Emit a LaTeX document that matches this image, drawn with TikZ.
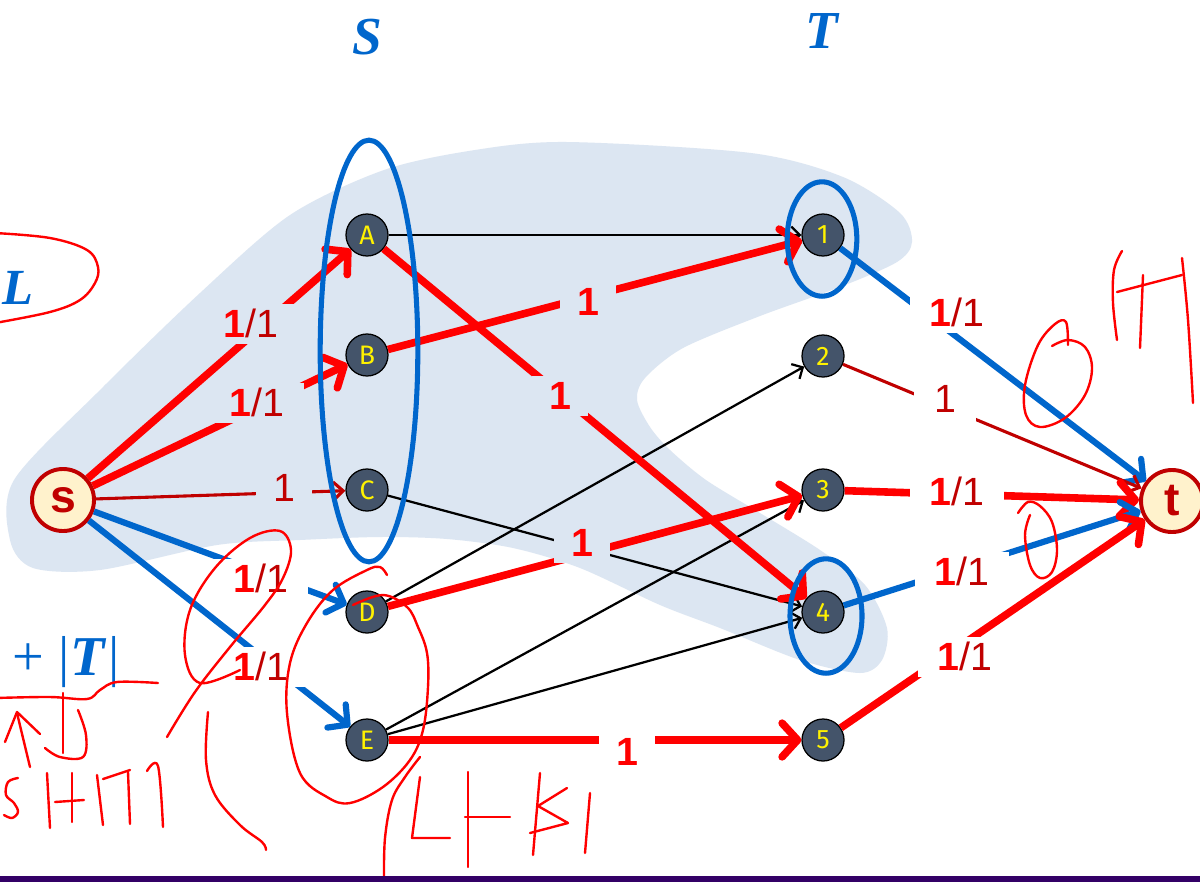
\documentclass[tikz,border=0pt]{standalone}
\usepackage{fontspec}
\setmainfont{Liberation Sans}
\newfontfamily\mathlike{Liberation Serif}
\newfontfamily\vtxfont{Fira Sans}
\usetikzlibrary{arrows.meta}
\definecolor{shadeblue}{HTML}{DCE6F2}
\definecolor{myblue}{HTML}{0066CC}
\definecolor{myred}{HTML}{FF0000}
\definecolor{dred}{HTML}{C00000}
\definecolor{slate}{HTML}{44546A}
\definecolor{cream}{HTML}{FFF2CC}
\definecolor{purp}{HTML}{330066}
\begin{document}
\begin{tikzpicture}[x=0.025cm,y=-0.025cm,
  vtx/.style={circle, draw=black, line width=0.9pt, fill=slate, text=yellow, minimum size=1.05cm, inner sep=0pt, font=\vtxfont\fontsize{19}{19}\selectfont},
  term/.style={circle, draw=dred, line width=2.8pt, fill=cream, text=dred, minimum size=1.55cm, inner sep=0pt, font=\fontsize{33}{33}\selectfont\bfseries},
  rthick/.style={draw=myred, line width=5.4pt, -{Straight Barb[length=11pt,width=24pt,round]}},
  bthick/.style={draw=myblue, line width=4.4pt, -{Straight Barb[length=10pt,width=21pt,round]}},
  thinarr/.style={draw=black, line width=1.6pt, -{Straight Barb[length=6pt,width=12pt]}},
  dthin/.style={draw=dred, line width=2.2pt, -{Straight Barb[length=7pt,width=13pt]}},
  ell/.style={draw=myblue, line width=3.6pt},
  lab/.style={fill=shadeblue, inner xsep=14pt, inner ysep=4pt, text height=20pt, text depth=1pt, font=\fontsize{28}{28}\selectfont},
  labw/.style={lab, fill=white},
  hand/.style={draw=myred, line width=1.7pt, line cap=round, line join=round},
  big/.style={text=myblue, font=\mathlike\bfseries\itshape\fontsize{38}{38}\selectfont}
]
\useasboundingbox (0,0) rectangle (1200,882);
\clip (0,0) rectangle (1200,882);
\fill[white] (0,0) rectangle (1200,882);

% shaded region
\fill[shadeblue] plot[smooth cycle, tension=0.5] coordinates {
  (567,142) (751,153) (843,177) (900,213) (912,242) (897,262) (840,287) (760,316)
  (683,348) (645,378) (637,400) (650,427) (670,450) (706,480) (760,513) (820,550)
  (865,585) (887,628) (882,660) (860,673) (800,660) (720,628) (660,605) (580,568)
  (513,548) (447,539) (380,537) (300,540) (217,545) (100,570) (33,568) (10,540)
  (14,480) (100,390) (200,293) (290,215) (384,170) (475,150)};

% headings
\node[big] (Shead) at (367,37) {S};
\node[big] (Thead) at (822,31) {T};
\node[big, font=\mathlike\bfseries\itshape\fontsize{36}{36}\selectfont] (Lhead) at (18,288) {L};
\node[anchor=west, text=myblue, inner sep=0pt, font=\mathlike\fontsize{40}{40}\selectfont] (plusT) at (12,662) {+\hspace{10pt}|\hspace{1pt}\textbf{\textit{T}}\hspace{1pt}|};

% nodes
\node[term] (s) at (63,500) {s};
\node[term] (t) at (1172,501) {t};
\node[vtx] (A) at (367,235) {A};
\node[vtx] (B) at (367,355) {B};
\node[vtx] (C) at (367,490) {C};
\node[vtx] (D) at (367,612) {D};
\node[vtx] (E) at (367,740) {E};
\node[vtx] (n1) at (823,235) {1};
\node[vtx] (n2) at (823,356) {2};
\node[vtx] (n3) at (823,490) {3};
\node[vtx] (n4) at (823,612) {4};
\node[vtx] (n5) at (823,740) {5};

% edges
\draw[thinarr] (A) -- (n1);
\draw[thinarr] (C) -- (n4);
\draw[thinarr] (D) -- (n2);
\draw[thinarr] (E) -- (n3);
\draw[thinarr] (E) -- (n4);
\draw[rthick] (s) -- (A);
\draw[rthick] (s) -- (B);
\draw[dthin] (s) -- (C);
\draw[bthick] (s) -- (D);
\draw[bthick] (s) -- (E);
\draw[rthick] (A) -- (n4);
\draw[rthick] (B) -- (n1);
\draw[rthick] (D) -- (n3);
\draw[rthick] (E) -- (n5);
\draw[bthick] (n1) -- (t);
\draw[dthin] (n2) -- (t);
\draw[rthick] (n3) -- (t);
\draw[bthick] (n4) -- (t);
\draw[rthick] (n5) -- (t);

% blue ellipses
\draw[ell] (369,351) ellipse [x radius=1.22cm, y radius=5.27cm];
\draw[ell] (822,239) ellipse [x radius=0.87cm, y radius=1.43cm];
\draw[ell] (826,616) ellipse [x radius=0.9cm, y radius=1.43cm];

% labels
\node[lab] (lsA) at (251,324) {{\bfseries\color{myred}1}{\color{dred}/1}};
\node[lab] (lsB) at (257,403) {{\bfseries\color{myred}1}{\color{dred}/1}};
\node[lab, inner xsep=12pt] (lsC) at (284,488) {\color{dred}1};
\node[labw] (lsD) at (261,579) {{\bfseries\color{myred}1}{\color{dred}/1}};
\node[labw] (lsE) at (261,667) {{\bfseries\color{myred}1}{\color{dred}/1}};
\node[lab, inner xsep=12pt] (lA4) at (560,396) {\bfseries\color{myred}1};
\node[lab, inner xsep=12pt] (lB1) at (588,302) {\bfseries\color{myred}1};
\node[lab, inner xsep=12pt] (lD3) at (582,543) {\bfseries\color{myred}1};
\node[labw, inner xsep=12pt] (lE5) at (627,752) {\bfseries\color{myred}1};
\node[labw] (l1t) at (957,313) {{\bfseries\color{myred}1}{\color{dred}/1}};
\node[labw, inner xsep=14pt, inner ysep=10pt] (l2t) at (945,399) {\color{dred}1};
\node[labw] (l3t) at (957,492) {{\bfseries\color{myred}1}{\color{dred}/1}};
\node[labw] (l4t) at (962,572) {{\bfseries\color{myred}1}{\color{dred}/1}};
\node[labw] (l5t) at (965,657) {{\bfseries\color{myred}1}{\color{dred}/1}};

% handwritten annotations
\draw[hand] plot[smooth, tension=0.6] coordinates {(-5,233) (50,238) (87,250) (98,267) (95,283) (80,300) (50,312) (-5,323)};
\draw[hand] plot[smooth, tension=0.6] coordinates {(-5,698) (50,697) (87,699) (100,690) (117,682) (158,683)};
\draw[hand] (30,767) -- (17,713);
\draw[hand] (5,742) -- (17,712) -- (40,734);
\draw[hand] (63,693) -- (63,753);
\draw[hand] plot[smooth, tension=0.6] coordinates {(45,748) (60,757) (83,757) (86,735) (78,710)};
\draw[hand] plot[smooth, tension=0.6] coordinates {(18,778) (8,782) (6,795) (14,803) (18,812) (12,818) (4,815)};
\draw[hand] (47,773) -- (50,828);
\draw[hand] (72,773) -- (72,822);
\draw[hand] (55,802) -- (84,800);
\draw[hand] (97,775) -- (103,825);
\draw[hand] (103,779) -- (130,770);
\draw[hand] (128,772) -- (130,824);
\draw[hand] plot[smooth, tension=0.6] coordinates {(147,771) (158,766) (163,827)};
\draw[hand] plot[smooth, tension=0.6] coordinates {(240,670) (200,683) (185,655) (190,610) (215,568) (250,538) (280,531) (291,550) (283,578) (265,605) (230,647) (195,692) (167,737)};
\draw[hand] plot[smooth, tension=0.6] coordinates {(208,712) (206,760) (215,795) (240,825) (262,842) (266,850)};
\draw[hand] plot[smooth, tension=0.6] coordinates {(387,575) (380,567) (367,570) (333,590) (307,623) (290,663) (287,713) (300,773) (327,797) (350,803) (383,787) (410,760) (423,730) (428,687) (427,653) (418,627) (407,607) (383,595) (353,605)};
\draw[hand] plot[smooth, tension=0.6] coordinates {(384,880) (385,838) (392,800) (405,777) (420,757)};
\draw[hand] (420,777) -- (412,838) -- (450,838);
\draw[hand] (468,772) -- (468,867);
\draw[hand] (465,817) -- (510,817);
\draw[hand] (540,773) -- (533,855);
\draw[hand] (567,788) -- (538,806) -- (568,823) -- (530,833);
\draw[hand] (590,793) -- (585,853);
\draw[hand] plot[smooth, tension=0.6] coordinates {(1122,251) (1114,270) (1113,303) (1117,340)};
\draw[hand] (1117,292) -- (1182,275);
\draw[hand] (1143,275) -- (1140,348);
\draw[hand] plot[smooth, tension=0.6] coordinates {(1182,258) (1188,320) (1193,403)};
\draw[hand] plot[smooth, tension=0.6] coordinates {(1068,345) (1066,322) (1055,324) (1038,345) (1025,385) (1026,415) (1040,427) (1065,418) (1085,395) (1092,368) (1085,347) (1068,340) (1052,346)};
\draw[hand] plot[smooth, tension=0.6] coordinates {(1018,513) (1028,502) (1040,506) (1052,522) (1057,550) (1052,572) (1040,578) (1030,565) (1025,535) (1030,515)};

% bottom bar
\fill[purp] (0,876) rectangle (1200,882);
\end{tikzpicture}
\end{document}
